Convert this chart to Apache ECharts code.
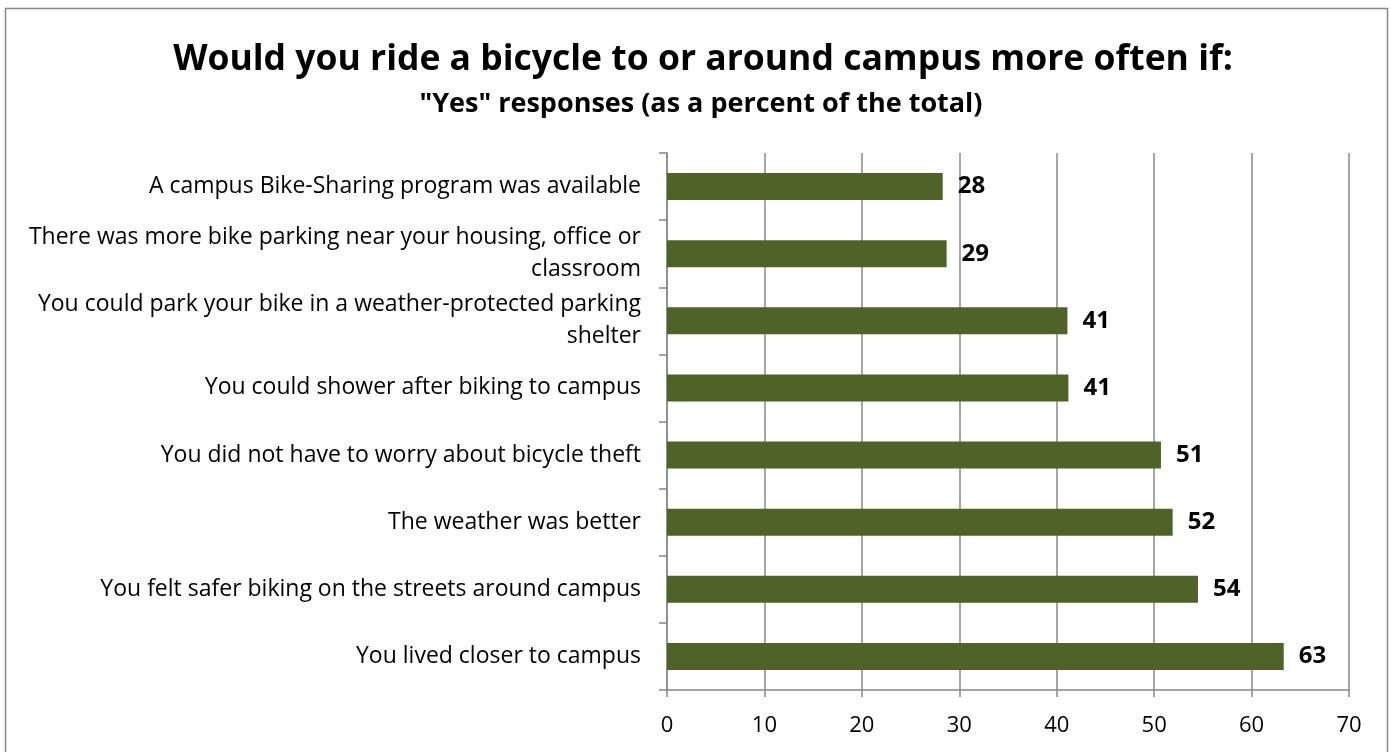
<!DOCTYPE html>
<html><head><meta charset="utf-8">
<script src="https://cdn.jsdelivr.net/npm/echarts@6/dist/echarts.min.js"></script>
<style>html,body{margin:0;padding:0;background:#fff}#c{width:1391px;height:752px}</style>
</head><body><div id="c"></div>
<script>
const categories = [
  "A campus Bike-Sharing program was available",
  "There was more bike parking near your housing, office or\nclassroom",
  "You could park your bike in a weather-protected parking\nshelter",
  "You could shower after biking to campus",
  "You did not have to worry about bicycle theft",
  "The weather was better",
  "You felt safer biking on the streets around campus",
  "You lived closer to campus"
];
const values = [28.3, 28.7, 41.1, 41.2, 50.7, 51.9, 54.5, 63.3];
const labels = [28, 29, 41, 41, 51, 52, 54, 63];
const xTicks = [0, 10, 20, 30, 40, 50, 60, 70];

const FONT = '"Open Sans", sans-serif';
const chart = echarts.init(document.getElementById('c'));
chart.setOption({
  animation: false,
  backgroundColor: '#fff',
  graphic: [{type: 'rect', shape: {x: 5.5, y: 8.5, width: 1382, height: 760}, style: {fill: 'none', stroke: '#888', lineWidth: 1.5}}],
  title: [{
    text: 'Would you ride a bicycle to or around campus more often if:',
    left: 698, textAlign: 'center', top: 37,
    textStyle: {fontFamily: FONT, fontSize: 35.5, fontWeight: 'bold', color: '#000'}
  }, {
    text: '"Yes" responses (as a percent of the total)',
    left: 696, textAlign: 'center', top: 86,
    textStyle: {fontFamily: FONT, fontSize: 27, fontWeight: 'bold', color: '#000'}
  }],
  grid: {left: 667, right: 42, top: 153, bottom: 62, containLabel: false},
  xAxis: {
    type: 'value', min: xTicks[0], max: xTicks[xTicks.length - 1], interval: 10,
    axisLine: {show: true, lineStyle: {color: '#888', width: 1.5}},
    axisTick: {show: true, length: 7, lineStyle: {color: '#888', width: 1.5}},
    splitLine: {show: true, lineStyle: {color: '#888', width: 1.5}},
    axisLabel: {fontFamily: FONT, fontSize: 22, color: '#000', margin: 25}
  },
  yAxis: {
    type: 'category', data: categories, inverse: true,
    axisLine: {show: true, lineStyle: {color: '#888', width: 1.5}},
    axisTick: {show: true, length: 8, lineStyle: {color: '#888', width: 1.5}},
    axisLabel: {fontFamily: FONT, fontSize: 23, color: '#000', margin: 26, align: 'right', lineHeight: 32}
  },
  series: [{
    type: 'bar', data: values, barWidth: 27,
    itemStyle: {color: '#4F6228'},
    label: {show: true, position: 'right', distance: 15,
      formatter: p => labels[p.dataIndex],
      fontFamily: FONT, fontSize: 24, fontWeight: 'bold', color: '#000'}
  }]
});
</script></body></html>
